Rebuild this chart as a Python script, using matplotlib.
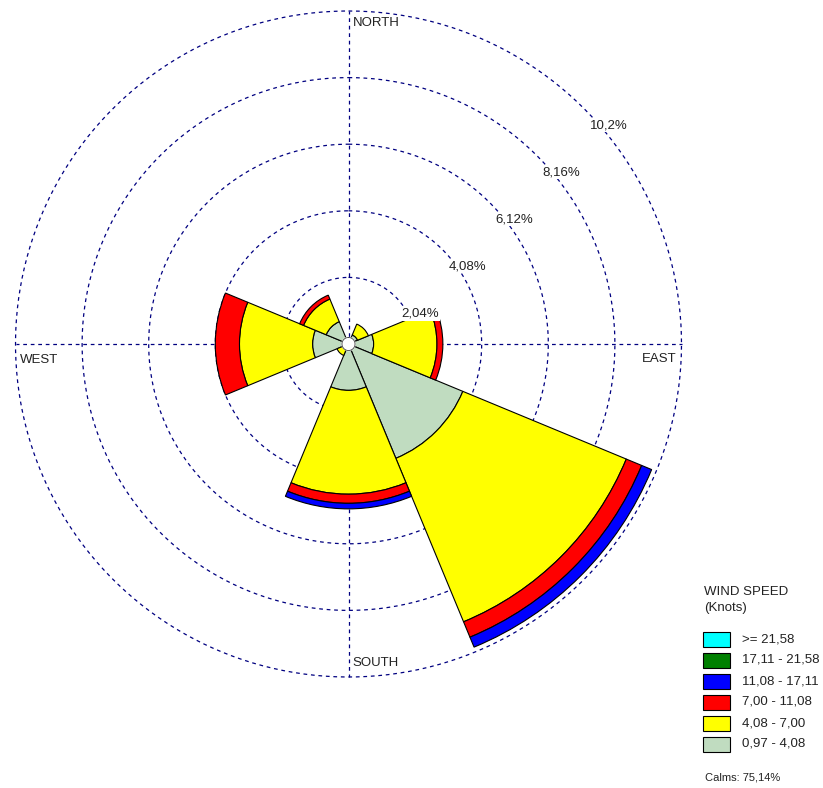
import numpy as np
import matplotlib
matplotlib.use('Agg')
import matplotlib.pyplot as plt
from matplotlib.patches import Rectangle

plt.rcParams['font.family'] = ['Liberation Sans', 'DejaVu Sans']

# wind directions (degrees, compass) and frequency (%) per speed class
directions = [0, 45, 90, 135, 180, 225, 270, 315]
speed_classes = ['0,97 - 4,08', '4,08 - 7,00', '7,00 - 11,08',
                 '11,08 - 17,11', '17,11 - 21,58', '>= 21,58']
class_colors = ['#C0DCC0', '#FFFF00', '#FF0000', '#0000FF', '#008000', '#00FFFF']

freq_097_408 = [0.10, 0.30, 0.77, 3.79, 1.42, 0.20, 1.10, 0.74]
freq_408_700 = [0.00, 0.36, 1.94, 5.42, 3.18, 0.18, 2.24, 0.75]
freq_700_1108 = [0.00, 0.00, 0.18, 0.51, 0.28, 0.00, 0.74, 0.13]
freq_1108_1711 = [0.00, 0.00, 0.00, 0.33, 0.17, 0.00, 0.00, 0.00]
freq_1711_2158 = [0.00, 0.00, 0.00, 0.00, 0.00, 0.00, 0.00, 0.00]
freq_2158_up = [0.00, 0.00, 0.00, 0.00, 0.00, 0.00, 0.00, 0.00]

rings = [2.04, 4.08, 6.12, 8.16, 10.2]
ring_labels = ['2,04%', '4,08%', '6,12%', '8,16%', '10,2%']
calms_text = 'Calms: 75,14%'
calm_radius = 0.2

W, H = 823, 788
fig = plt.figure(figsize=(W / 100, H / 100), dpi=100)
cx, cy, R = 348.5, 344, 333
ax = fig.add_axes([(cx - R) / W, (H - cy - R) / H, 2 * R / W, 2 * R / H], projection='polar')
ax.set_theta_zero_location('N')
ax.set_theta_direction(-1)
ax.set_ylim(0, rings[-1])
ax.axis('off')

grid_col = '#000080'
dash = (0, (3, 3))
t = np.linspace(0, 2 * np.pi, 400)
for r in rings:
    ax.plot(t, np.full_like(t, r), color=grid_col, lw=0.9, ls=dash, zorder=0, clip_on=False)
for d in [0, 90, 180, 270]:
    ax.plot([np.radians(d)] * 2, [0, rings[-1]], color=grid_col, lw=0.9, ls=dash, zorder=0,
            clip_on=False)

# stacked wedges
theta = np.radians(directions)
width = np.radians(45)
bottom = np.zeros(len(directions))
series = [freq_097_408, freq_408_700, freq_700_1108, freq_1108_1711, freq_1711_2158, freq_2158_up]
for vals, col in zip(series, class_colors):
    vals = np.array(vals)
    m = vals > 0
    if m.any():
        ax.bar(theta[m], vals[m], width=width, bottom=bottom[m], color=col,
               edgecolor='black', linewidth=0.8, zorder=2)
    bottom += vals

# calm circle
ax.fill(t, np.full_like(t, calm_radius), color='white', zorder=3)
ax.plot(t, np.full_like(t, calm_radius), color='#444444', lw=0.6, zorder=3)

txt_col = '#222222'
# ring labels
for r, lab in zip(rings, ring_labels):
    ax.annotate(lab, xy=(np.radians(45), r), xytext=(6, -20), textcoords='offset pixels',
                ha='left', va='baseline', fontsize=9.5, color=txt_col, zorder=4,
                bbox=dict(facecolor='white', edgecolor='none', pad=0.5))

# compass labels
ax.annotate('NORTH', xy=(0, rings[-1]), xytext=(4, -12), textcoords='offset pixels',
            ha='left', va='center', fontsize=9.5, color=txt_col)
ax.annotate('EAST', xy=(np.pi / 2, rings[-1]), xytext=(-5, -15), textcoords='offset pixels',
            ha='right', va='center', fontsize=9.5, color=txt_col)
ax.annotate('SOUTH', xy=(np.pi, rings[-1]), xytext=(4, 14), textcoords='offset pixels',
            ha='left', va='center', fontsize=9.5, color=txt_col)
ax.annotate('WEST', xy=(1.5 * np.pi, rings[-1]), xytext=(4.5, -16), textcoords='offset pixels',
            ha='left', va='center', fontsize=9.5, color=txt_col)

# legend
fig.text(704 / W, 1 - 592 / H, 'WIND SPEED', ha='left', va='center', fontsize=9.5, color=txt_col)
fig.text(704 / W, 1 - 608 / H, '(Knots)', ha='left', va='center', fontsize=9.5, color=txt_col)
for i, (lab, col) in enumerate(zip(speed_classes[::-1], class_colors[::-1])):
    yc = 639 + i * 21
    fig.add_artist(Rectangle((703 / W, 1 - (yc + 7.5) / H), 27 / W, 15 / H,
                             facecolor=col, edgecolor='black', lw=0.8, transform=fig.transFigure))
    fig.text(742 / W, 1 - yc / H, lab, ha='left', va='center', fontsize=9.5, color=txt_col)
fig.text(705 / W, 1 - 777 / H, calms_text, ha='left', va='center', fontsize=8, color=txt_col)

fig.savefig('out.png', dpi=100)
